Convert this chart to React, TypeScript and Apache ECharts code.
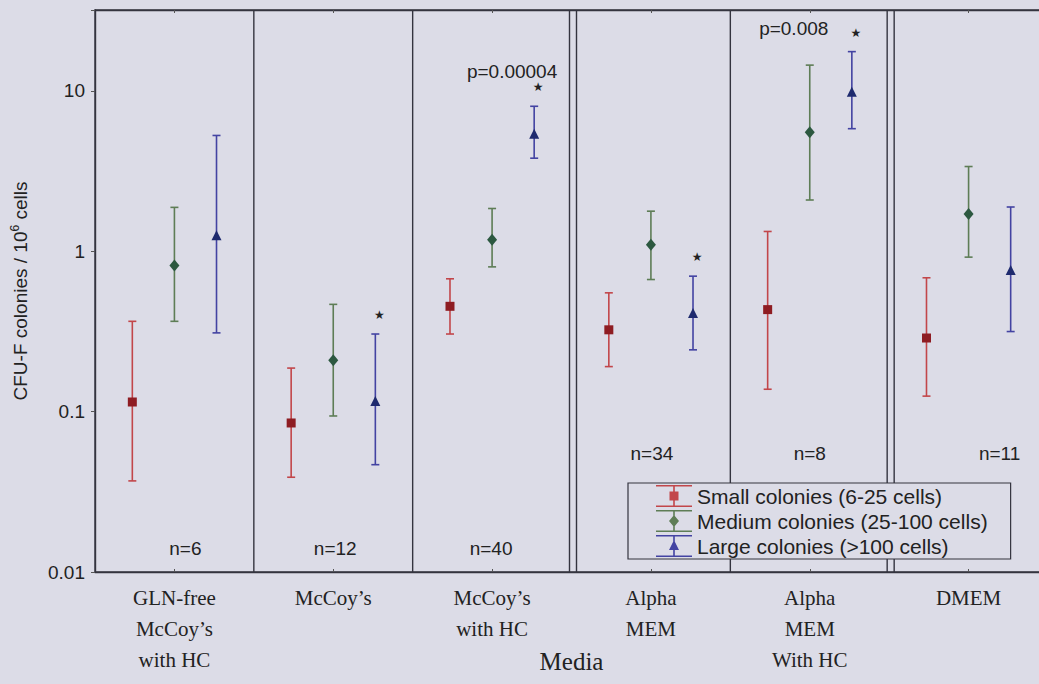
import React, { useEffect, useRef } from "react";
import * as echarts from "echarts";

// ---------- data ----------
const categories = [
  "GLN-free\nMcCoy’s\nwith HC",
  "McCoy’s",
  "McCoy’s\nwith HC",
  "Alpha\nMEM",
  "Alpha\nMEM\nWith HC",
  "DMEM",
];
const seriesNames = [
  "Small colonies (6-25 cells)",
  "Medium colonies (25-100 cells)",
  "Large colonies (>100 cells)",
];
const smallMean = [0.115, 0.085, 0.454, 0.324, 0.433, 0.288];
const smallLow = [0.037, 0.039, 0.305, 0.191, 0.138, 0.125];
const smallHigh = [0.366, 0.187, 0.674, 0.551, 1.33, 0.684];
const mediumMean = [0.817, 0.209, 1.18, 1.1, 5.52, 1.71];
const mediumLow = [0.366, 0.094, 0.8, 0.667, 2.09, 0.92];
const mediumHigh = [1.88, 0.467, 1.85, 1.78, 14.5, 3.38];
const largeMean = [1.24, 0.115, 5.34, 0.407, 9.75, 0.753];
const largeLow = [0.31, 0.0467, 3.81, 0.243, 5.82, 0.316];
const largeHigh = [5.28, 0.305, 8.03, 0.7, 17.6, 1.89];
const largeSignificant = [false, true, true, true, true, false];

const noteTexts = ["n=6", "n=12", "n=40", "n=34", "n=8", "n=11", "p=0.00004", "p=0.008"];
const noteCategory = [0, 1, 2, 3, 4, 5, 2, 4];
const noteValues = [0.0141, 0.0141, 0.0141, 0.055, 0.055, 0.055, 13.3, 24.6];
const noteShiftPx = [11, 2, -1, 1, 0, 31, 20, -16];

const panelBoundaries = [0, 1, 2, 3, 4];
const doubleBoundary = [false, false, true, false, true];

const yMin = 0.01;
const yMax = 32;

// ---------- styles ----------
const SANS = "'Liberation Sans', Arial, sans-serif";
const SERIF = "'Liberation Serif', 'Times New Roman', serif";
const BG = "#dcdce7";
const INK = "#222222";
const FRAME = "#34343f";

function markerShape(shape: string, x: number, y: number, color: string): any {
  if (shape === "square")
    return { type: "rect", shape: { x: x - 4.5, y: y - 4.5, width: 9, height: 9 }, style: { fill: color } };
  if (shape === "diamond")
    return {
      type: "polygon",
      shape: { points: [[x, y - 6], [x + 5, y], [x, y + 6], [x - 5, y]] },
      style: { fill: color },
    };
  return {
    type: "polygon",
    shape: { points: [[x, y - 6], [x + 5, y + 4], [x - 5, y + 4]] },
    style: { fill: color },
  };
}

function errorSeries(
  name: string,
  mean: number[],
  low: number[],
  high: number[],
  offset: number,
  lineColor: string,
  markColor: string,
  shape: string,
  stars?: boolean[]
): any {
  return {
    type: "custom",
    name,
    itemStyle: { color: lineColor },
    data: mean.map((m, i) => [i, m, low[i], high[i], stars && stars[i] ? 1 : 0]),
    encode: { x: 0, y: [1, 2, 3] },
    z: 5,
    renderItem: (params: any, api: any) => {
      const i = api.value(0);
      const band = api.size([1, 1])[0];
      const c = api.coord([i, api.value(1)]);
      const x = c[0] + offset * band;
      const ym = c[1];
      const yl = api.coord([i, api.value(2)])[1];
      const yh = api.coord([i, api.value(3)])[1];
      const ls = { stroke: lineColor, lineWidth: 1.6 };
      const children: any[] = [
        { type: "line", shape: { x1: x, y1: yl, x2: x, y2: yh }, style: ls },
        { type: "line", shape: { x1: x - 4, y1: yl, x2: x + 4, y2: yl }, style: ls },
        { type: "line", shape: { x1: x - 4, y1: yh, x2: x + 4, y2: yh }, style: ls },
        markerShape(shape, x, ym, markColor),
      ];
      if (api.value(4) === 1) {
        children.push({
          type: "text",
          x: x + 4,
          y: yh - 19,
          style: {
            text: "★",
            fontSize: 12,
            fill: INK,
            align: "center",
            verticalAlign: "middle",
            fontFamily: "'DejaVu Sans', sans-serif",
          },
        });
      }
      return { type: "group", children };
    },
  };
}

const iconBars = "M0,0H36V1.6H0Z M0,20.4H36V22H0Z M17.2,1.6H18.8V20.4H17.2Z ";
const legendIcons = [
  "path://" + iconBars + "M13.5,6.5H22.5V15.5H13.5Z",
  "path://" + iconBars + "M18,5L23,11L18,17L13,11Z",
  "path://" + iconBars + "M18,5L23,15H13Z",
];

function buildOption(): any {
  const separatorSeries = {
    type: "custom",
    name: "separators",
    silent: true,
    z: 3,
    data: panelBoundaries.map((b, i) => [b, 1, doubleBoundary[i] ? 1 : 0]),
    encode: { x: 0, y: 1 },
    renderItem: (params: any, api: any) => {
      const i = api.value(0);
      const band = api.size([1, 1])[0];
      const x = api.coord([i, 1])[0] + band / 2;
      const cs = params.coordSys;
      const st = { stroke: FRAME, lineWidth: 1.4 };
      const xs = api.value(2) === 1 ? [x - 2, x + 5] : [x];
      return {
        type: "group",
        children: xs.map((xx) => ({
          type: "line",
          shape: { x1: xx, y1: cs.y, x2: xx, y2: cs.y + cs.height },
          style: st,
        })),
      };
    },
  };

  const notesSeries = {
    type: "custom",
    name: "notes",
    silent: true,
    z: 6,
    data: noteTexts.map((t, i) => [noteCategory[i], noteValues[i], i]),
    encode: { x: 0, y: 1 },
    renderItem: (params: any, api: any) => {
      const k = api.value(2);
      const c = api.coord([api.value(0), api.value(1)]);
      return {
        type: "text",
        x: c[0] + noteShiftPx[k],
        y: c[1],
        style: {
          text: noteTexts[k],
          fontSize: 19,
          fontFamily: SANS,
          fill: INK,
          align: "center",
          verticalAlign: "middle",
        },
      };
    },
  };

  return {
    animation: false,
    backgroundColor: BG,
    grid: {
      left: 95,
      right: -9,
      top: 10,
      bottom: 112,
      show: true,
      containLabel: false,
      outerBoundsMode: "none",
      borderColor: FRAME,
      borderWidth: 1.4,
      backgroundColor: BG,
    },
    legend: {
      orient: "vertical",
      left: 628,
      top: 483,
      selectedMode: false,
      itemWidth: 36,
      itemHeight: 22,
      itemGap: 3,
      padding: [2, 23, 2, 28],
      borderColor: FRAME,
      borderWidth: 1.2,
      backgroundColor: BG,
      textStyle: { fontSize: 21, fontFamily: SANS, color: INK, lineHeight: 22 },
      data: seriesNames.map((n, i) => ({ name: n, icon: legendIcons[i] })),
    },
    xAxis: [
      {
        type: "category",
        data: categories,
        position: "bottom",
        axisLine: { show: true, lineStyle: { color: FRAME, width: 1.4 } },
        axisTick: { show: true, inside: true, alignWithLabel: true, length: 3, lineStyle: { color: "#555" } },
        axisLabel: {
          interval: 0,
          fontFamily: SERIF,
          fontSize: 21,
          lineHeight: 31,
          color: INK,
          margin: 10,
        },
        splitLine: { show: false },
        name: "Media",
        nameLocation: "middle",
        nameGap: 77,
        nameMoveOverlap: false,
        nameTextStyle: { fontFamily: SERIF, fontSize: 25, color: INK },
      },
      {
        type: "category",
        data: categories,
        position: "top",
        axisLine: { show: true, lineStyle: { color: FRAME, width: 1.4 } },
        axisTick: { show: true, inside: true, alignWithLabel: true, length: 3, lineStyle: { color: "#555" } },
        axisLabel: { show: false },
        splitLine: { show: false },
      },
    ],
    yAxis: {
      type: "log",
      logBase: 10,
      min: yMin,
      max: yMax,
      axisLine: { show: true, lineStyle: { color: FRAME, width: 1.4 } },
      axisTick: { show: true, length: 4, lineStyle: { color: "#555" } },
      minorTick: { show: false },
      splitLine: { show: false },
      axisLabel: {
        fontFamily: SANS,
        fontSize: 19,
        color: INK,
        margin: 10,
        formatter: (v: number) => {
          const l = Math.log10(v);
          return Math.abs(l - Math.round(l)) < 1e-6 ? String(Number(v.toPrecision(3))) : "";
        },
      },
      name: "{a|CFU-F colonies / 10}{s|6}{a| cells}",
      nameLocation: "middle",
      nameGap: 64,
      nameRotate: 90,
      nameMoveOverlap: false,
      nameTextStyle: {
        rich: {
          a: { fontFamily: SANS, fontSize: 19, color: INK, lineHeight: 22 },
          s: { fontFamily: SANS, fontSize: 12, color: INK, lineHeight: 22, verticalAlign: "top" },
        },
      },
    },
    series: [
      separatorSeries,
      errorSeries(seriesNames[0], smallMean, smallLow, smallHigh, -0.265, "#c2464a", "#8e1c22", "square"),
      errorSeries(seriesNames[1], mediumMean, mediumLow, mediumHigh, 0, "#5e7d56", "#2c5840", "diamond"),
      errorSeries(seriesNames[2], largeMean, largeLow, largeHigh, 0.265, "#4343a2", "#1e2a6e", "triangle", largeSignificant),
      notesSeries,
    ],
  };
}

export default function App() {
  const ref = useRef<HTMLDivElement>(null);
  useEffect(() => {
    if (!ref.current) return;
    const chart = echarts.init(ref.current, null, { renderer: "svg" });
    chart.setOption(buildOption());
    return () => chart.dispose();
  }, []);
  return (
    <div
      ref={ref}
      style={{ position: "fixed", left: 0, top: 0, width: 1039, height: 684 }}
    />
  );
}
